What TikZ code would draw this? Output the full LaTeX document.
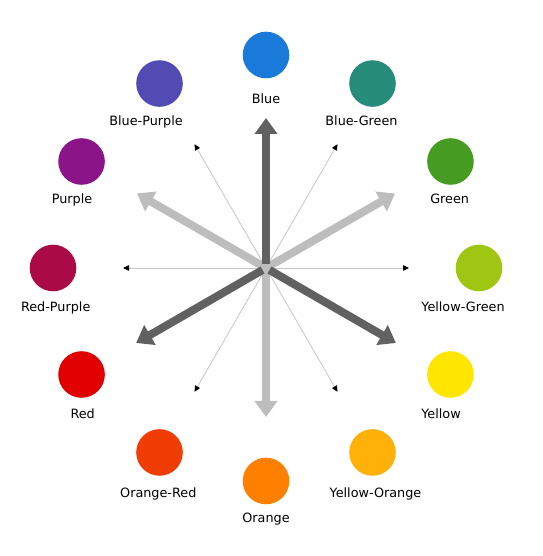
\documentclass[tikz,border=0pt]{standalone}
\usepackage{fontspec}
\setmainfont{DejaVu Sans}
\usetikzlibrary{arrows.meta,positioning,calc}

\definecolor{cblue}{HTML}{1A7AD9}
\definecolor{cbluegreen}{HTML}{288C7A}
\definecolor{cgreen}{HTML}{469B23}
\definecolor{cyellowgreen}{HTML}{A0C614}
\definecolor{cyellow}{HTML}{FFE600}
\definecolor{cyelloworange}{HTML}{FFB10A}
\definecolor{corange}{HTML}{FF7F00}
\definecolor{corangered}{HTML}{F03C05}
\definecolor{cred}{HTML}{E00000}
\definecolor{credpurple}{HTML}{AA0A46}
\definecolor{cpurple}{HTML}{8C1489}
\definecolor{cbluepurple}{HTML}{524BB4}
\definecolor{arrdark}{HTML}{616161}
\definecolor{arrlight}{HTML}{BDBDBD}

\tikzset{
  swatch/.style={circle, minimum size=46.6pt, inner sep=0pt, draw=none},
  lbl/.style={anchor=base, inner sep=0pt, font=\fontsize{12.8}{14}\selectfont},
  thinarrow/.style={draw=gray!45, line width=0.8pt, -{Triangle[black,length=6pt,width=5.5pt]}},
  lightarrow/.style={draw=arrlight, line width=8pt, -{Triangle[length=16pt,width=22pt]}},
  darkarrow/.style={draw=arrdark, line width=8pt, -{Triangle[length=16pt,width=22pt]}, shorten <=4pt},
}

\begin{document}
\begin{tikzpicture}[x=1pt, y=1pt]
\useasboundingbox (0,0) rectangle (542,556);
\coordinate (c) at (266,288);

% colour swatches and their names
\foreach \a/\col/\nm/\lx/\ly/\txt in {
  90/cblue/bl/266/452/Blue,
  60/cbluegreen/bg/361.5/430/Blue-Green,
  30/cgreen/gr/449.7/352/Green,
  0/cyellowgreen/yg/463/244/Yellow-Green,
  -30/cyellow/ye/441/137.4/Yellow,
  -60/cyelloworange/yo/375.5/58.4/Yellow-Orange,
  -90/corange/or/266/33.4/Orange,
  -120/corangered/ore/158.3/58.4/Orange-Red,
  -150/cred/re/82.7/137.4/Red,
  180/credpurple/rp/55.7/244.4/Red-Purple,
  150/cpurple/pu/72/352.4/Purple,
  120/cbluepurple/bp/146/430/Blue-Purple} {
  \node[swatch, fill=\col] (\nm) at ($(c)+(\a:213)$) {};
  \node[lbl] (\nm-l) at (\lx,\ly) {\txt};
}

% thin arrows
\foreach \a in {0,60,...,300} {
  \coordinate (t\a) at ($(c)+(\a:143)$);
  \draw[thinarrow] (c) -- (t\a);
}
% thick arrows
\foreach \a in {30,150,270} {
  \coordinate (l\a) at ($(c)+(\a:149)$);
  \draw[lightarrow] (c) -- (l\a);
}
\foreach \a in {90,210,330} {
  \coordinate (d\a) at ($(c)+(\a:150)$);
  \draw[darkarrow] (c) -- (d\a);
}
\end{tikzpicture}
\end{document}
